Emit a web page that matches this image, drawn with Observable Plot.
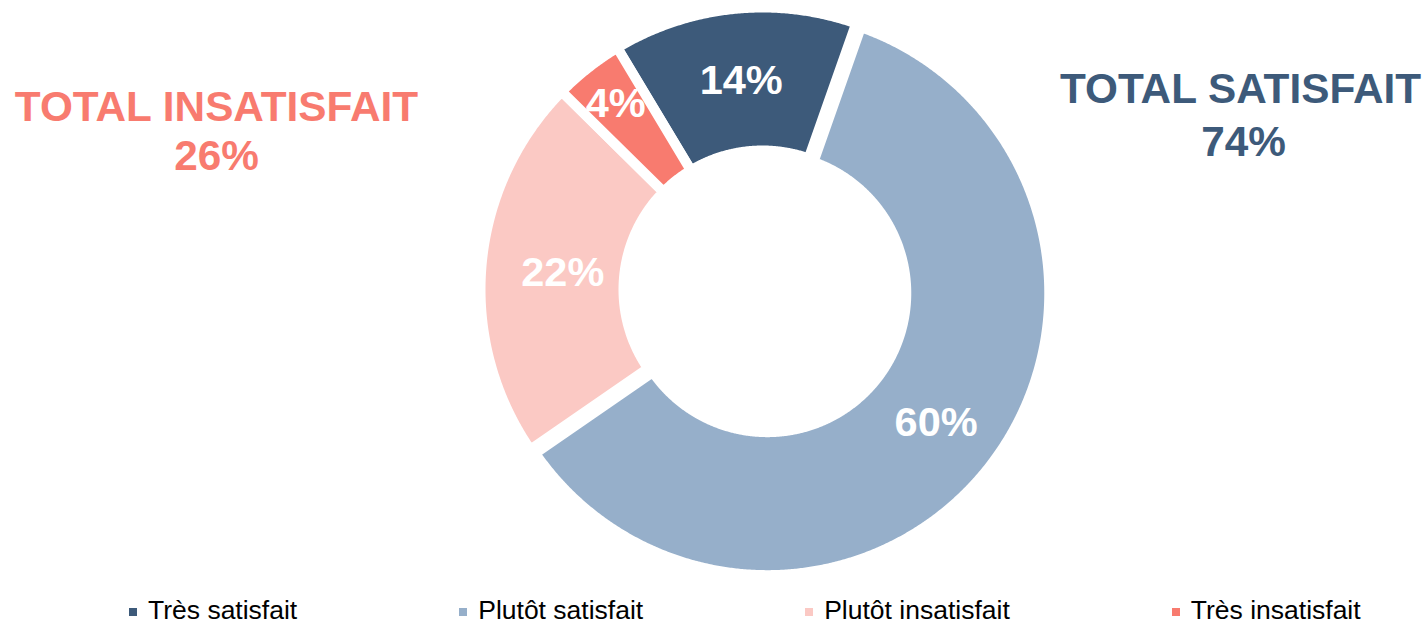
<!DOCTYPE html>
<html><head><meta charset="utf-8">
<script src="https://cdn.jsdelivr.net/npm/d3@7"></script>
<script src="https://cdn.jsdelivr.net/npm/@observablehq/plot@0.6"></script>
<style>
html,body{margin:0;padding:0;background:#fff;}
body{width:1426px;height:624px;overflow:hidden;font-family:"Liberation Sans",Arial,sans-serif;}
#legend{position:relative;height:28px;white-space:nowrap;padding-left:129px;padding-top:1px;box-sizing:border-box;overflow:visible;}
.item{display:inline-flex;align-items:center;margin-right:162px;font-size:26.5px;line-height:26.5px;height:26.5px;color:#000;vertical-align:top;}
.sw{display:inline-block;width:8px;height:8px;margin-right:11px;margin-top:4px;}
</style></head>
<body><div id="chart"></div><div id="legend"></div>
<script>
const categories = ["Très satisfait", "Plutôt satisfait", "Plutôt insatisfait", "Très insatisfait"];
const values = [14, 60, 22, 4];
const colors = ["#3D5A7A", "#96AFCA", "#FBC9C4", "#F87B6F"];
const groupOf = ["satisfait", "satisfait", "insatisfait", "insatisfait"];
const totalTitles = {satisfait: "TOTAL SATISFAIT", insatisfait: "TOTAL INSATISFAIT"};

const W = 1426, H = 596;
const cx = 762, cy = 289, rOuter = 282, rInner = 139;
const startDeg = -31;
const explode = {"Plutôt satisfait": 6};
const labelShift = {"Très satisfait": 0, "Plutôt satisfait": 2, "Plutôt insatisfait": -10, "Très insatisfait": 27};

const pie = d3.pie().sort(null).value(d => d.value)
  .startAngle(startDeg * Math.PI / 180).endAngle((startDeg + 360) * Math.PI / 180);
const arcs = pie(categories.map((c, i) => ({cat: c, value: values[i]})));

const pts = [];
const labels = [];
arcs.forEach(a => {
  const mid = (a.startAngle + a.endAngle) / 2;
  const off = explode[a.data.cat] || 0;
  const ox = cx + off * Math.sin(mid), oy = cy - off * Math.cos(mid);
  const n = Math.max(8, Math.ceil((a.endAngle - a.startAngle) * 180));
  for (let k = 0; k <= n; k++) {
    const t = a.startAngle + (a.endAngle - a.startAngle) * k / n;
    pts.push({cat: a.data.cat, x: ox + rOuter * Math.sin(t), y: oy - rOuter * Math.cos(t)});
  }
  for (let k = n; k >= 0; k--) {
    const t = a.startAngle + (a.endAngle - a.startAngle) * k / n;
    pts.push({cat: a.data.cat, x: ox + rInner * Math.sin(t), y: oy - rInner * Math.cos(t)});
  }
  const rl = (rOuter + rInner) / 2 + (labelShift[a.data.cat] || 0);
  labels.push({cat: a.data.cat, x: ox + rl * Math.sin(mid), y: oy - rl * Math.cos(mid) + 1, text: a.data.value + "%"});
});

const sat = d3.sum(values.filter((v, i) => groupOf[i] === "satisfait"));
const insat = d3.sum(values.filter((v, i) => groupOf[i] === "insatisfait"));
const totals = [
  {cat: categories[3], x: 216, y: 107, text: totalTitles.insatisfait},
  {cat: categories[3], x: 216, y: 156, text: insat + "%"},
  {cat: categories[0], x: 1240, y: 89, text: totalTitles.satisfait},
  {cat: categories[0], x: 1243, y: 142, text: sat + "%"}
];

const chart = Plot.plot({
  width: W, height: H, margin: 0,
  x: {domain: [0, W], range: [0, W], axis: null},
  y: {domain: [0, H], range: [0, H], axis: null},
  color: {domain: categories, range: colors},
  style: {fontFamily: "'Liberation Sans', Arial, sans-serif", background: "#fff"},
  marks: [
    Plot.line(pts, {x: "x", y: "y", z: "cat", fill: "cat", stroke: "white", strokeWidth: 10, curve: "linear-closed"}),
    Plot.text(labels, {x: "x", y: "y", text: "text", fill: "white", fontSize: 41.5, fontWeight: "bold"}),
    Plot.text(totals, {x: "x", y: "y", text: "text", fill: "cat", fontSize: 42.3, fontWeight: "bold"})
  ]
});
document.getElementById("chart").appendChild(chart);

const leg = document.getElementById("legend");
categories.forEach((c, i) => {
  const it = document.createElement("span");
  it.className = "item";
  const sw = document.createElement("span");
  sw.className = "sw";
  sw.style.background = colors[i];
  it.appendChild(sw);
  it.appendChild(document.createTextNode(c));
  leg.appendChild(it);
});
</script></body></html>
